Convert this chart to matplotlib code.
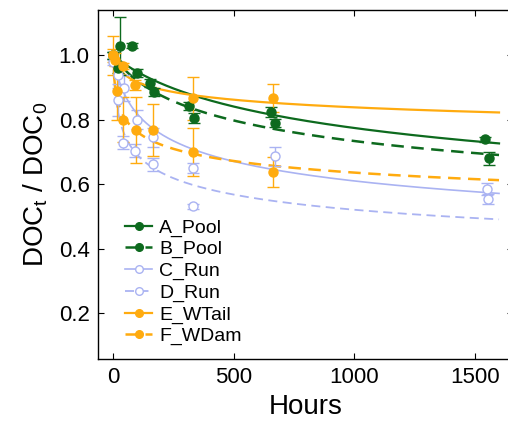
import numpy as np
import matplotlib
matplotlib.use("Agg")
import matplotlib.pyplot as plt
from matplotlib.lines import Line2D

plt.rcParams['font.family'] = ['Liberation Sans', 'DejaVu Sans']

# ---- data ----
series_names = ["A_Pool", "B_Pool", "C_Run", "D_Run", "E_WTail", "F_WDam"]

A_t = [0, 29, 98, 153, 316, 655, 1540]
A_y = [1.00, 1.03, 0.945, 0.914, 0.843, 0.825, 0.740]
A_e = [0.01, 0.09, 0.012, 0.012, 0.012, 0.015, 0.008]

B_t = [0, 22, 80, 171, 336, 671, 1560]
B_y = [1.00, 0.96, 1.03, 0.886, 0.805, 0.789, 0.681]
B_e = [0.01, 0.015, 0.008, 0.012, 0.015, 0.012, 0.02]

C_t = [0, 20, 45, 98, 167, 333, 672, 1552]
C_y = [1.00, 0.94, 0.898, 0.80, 0.745, 0.651, 0.686, 0.585]
C_e = [0.01, 0.04, 0.04, 0.03, 0.03, 0.015, 0.03, 0.02]

D_t = [0, 22, 43, 91, 165, 333, 1556]
D_y = [0.98, 0.862, 0.729, 0.704, 0.662, 0.531, 0.554]
D_e = [0.01, 0.05, 0.02, 0.02, 0.02, 0.008, 0.015]

E_t = [0, 10, 43, 91, 330, 665]
E_y = [1.00, 0.986, 0.967, 0.908, 0.867, 0.867]
E_e = [0.06, 0.02, 0.01, 0.015, 0.067, 0.043]

F_t = [0, 15, 43, 94, 164, 330, 665]
F_y = [1.00, 0.89, 0.80, 0.769, 0.769, 0.699, 0.637]
F_e = [0.02, 0.09, 0.07, 0.103, 0.08, 0.075, 0.046]

# fitted reactivity-continuum curves y = (a / (a + t)) ** v
fit_a = [270, 130, 33, 5.7, 14, 3.5]
fit_v = [0.165, 0.143, 0.1435, 0.1262, 0.0411, 0.08]
fit_tmax = 1600

x_ticks = [0, 500, 1000, 1500]
y_ticks = [0.2, 0.4, 0.6, 0.8, 1.0]

# ---- styles ----
GREEN = '#0d6a1e'
BLUE = '#aab3f2'
ORANGE = '#ffab0f'
colors = [GREEN, GREEN, BLUE, BLUE, ORANGE, ORANGE]
lstyles = ['-', (0, (5, 3)), '-', (0, (5, 3)), '-', (0, (5, 3))]
lwidths = [1.6, 1.8, 1.2, 1.3, 1.6, 1.8]
filled = [True, True, False, False, True, True]

data_t = [A_t, B_t, C_t, D_t, E_t, F_t]
data_y = [A_y, B_y, C_y, D_y, E_y, F_y]
data_e = [A_e, B_e, C_e, D_e, E_e, F_e]

W, H = 508, 424
fig = plt.figure(figsize=(W / 100, H / 100), dpi=100)
ax = fig.add_axes([98 / W, (H - 359) / H, 415 / W, 349 / H])

tt = np.linspace(0, fit_tmax, 600)
order = [2, 3, 0, 1, 4, 5]
for i in order:
    c = colors[i]
    curve = (fit_a[i] / (fit_a[i] + tt)) ** fit_v[i]
    ax.plot(tt, curve, color=c, ls=lstyles[i], lw=lwidths[i], zorder=2)
    mfc = c if filled[i] else 'white'
    ax.errorbar(data_t[i], data_y[i], yerr=data_e[i], fmt='o', color=c,
                mfc=mfc, mec=c, ms=6.5, mew=1.0, elinewidth=1.0,
                capsize=4, capthick=1.0, zorder=3)

ax.set_xlim(-62, 1658)
ax.set_ylim(0.057, 1.141)
ax.set_xticks(x_ticks)
ax.set_yticks(y_ticks)
ax.set_yticklabels([f"{v:.1f}" for v in y_ticks])
ax.tick_params(direction='in', length=4, width=0.8, labelsize=16,
               top=True, right=True, pad=6)
for s in ax.spines.values():
    s.set_linewidth(1.0)

ax.set_xlabel("Hours", fontsize=20, labelpad=4)
ax.set_ylabel(r"DOC$_\mathregular{t}$ / DOC$_\mathregular{0}$", fontsize=20, labelpad=6)

handles = []
for i in range(6):
    c = colors[i]
    handles.append(Line2D([0], [0], color=c, ls=lstyles[i], lw=lwidths[i],
                          marker='o', ms=5.5, mfc=(c if filled[i] else 'white'),
                          mec=c, mew=1.0))
leg = ax.legend(handles, series_names, loc='upper left', frameon=False,
                bbox_to_anchor=(125 / W, (H - 219) / H),
                bbox_transform=fig.transFigure, fontsize=14,
                handlelength=1.4, handletextpad=0.35, labelspacing=0.2,
                borderpad=0, borderaxespad=0)

fig.savefig("out.png", dpi=100)
